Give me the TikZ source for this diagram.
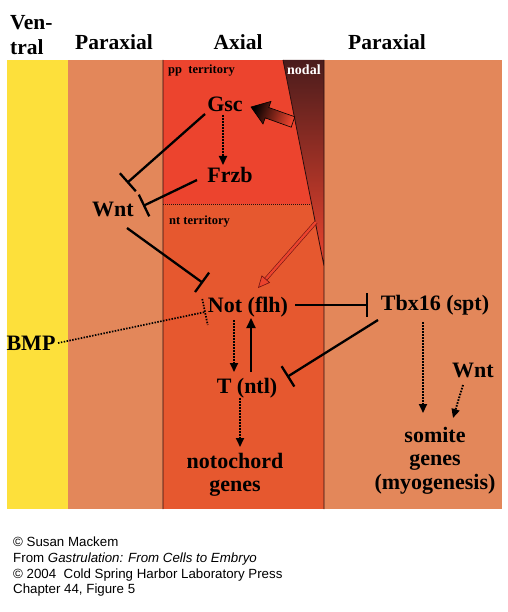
\documentclass[tikz,border=0pt]{standalone}
\usepackage{fontspec}
\setmainfont{Liberation Serif}
\newfontfamily\creditfont{Liberation Sans}
\usetikzlibrary{arrows.meta,calc}
\definecolor{bgVentral}{HTML}{FDE03B}
\definecolor{bgParaxial}{HTML}{E3875A}
\definecolor{bgPrechordal}{HTML}{EC442E}
\definecolor{bgNotochord}{HTML}{E6582F}
\definecolor{nodalDark}{HTML}{4A1C1C}
\definecolor{lineDark}{HTML}{2A0E0E}
\definecolor{arrowRim}{HTML}{6E1212}
\newcommand{\genefont}{\fontsize{22pt}{23.5pt}\selectfont\bfseries}

\begin{document}
\begin{tikzpicture}[x=1pt,y=-1pt,
          every node/.style={inner sep=0pt,text=black},
          region/.style={font=\fontsize{21.5pt}{25pt}\selectfont\bfseries},
          gene/.style={font=\genefont},
          territory/.style={font=\fontsize{12.5pt}{14pt}\selectfont\bfseries,
                            anchor=base west},
          act/.style={line width=1.9pt,dash pattern=on 1.6pt off 1.4pt,
                      -{Triangle[length=9pt,width=8pt]}},
          fwd/.style={line width=2.2pt,-{Triangle[length=10pt,width=9pt]}},
          inh/.style={line width=2.3pt,-{Bar[width=24pt]}},
          inhdot/.style={line width=1.7pt,dash pattern=on 1.5pt off 1.4pt},
          nodalLink/.style={draw=arrowRim,line width=0.6pt,double=bgPrechordal,
                            double distance=2.4pt,
                            -{Triangle[open,length=12pt,width=11pt,fill=bgPrechordal]}},
        ]
        \useasboundingbox (0,0) rectangle (507,612);
        % bands
        \fill[bgVentral] (7,60) rectangle (68,509);
        \fill[bgParaxial] (68,60) rectangle (502,509);
        \fill[bgPrechordal] (163,60) rectangle (324,204);
        \fill[bgNotochord] (163,204) rectangle (324,509);
        \shade[top color=nodalDark,bottom color=bgPrechordal] (283,60) -- (324,60) -- (324,266) -- cycle;
        \draw[lineDark,line width=0.8pt] (163,60) -- (163,509) (324,60) -- (324,509) (283,60) -- (324,266);
        \draw[lineDark,line width=0.6pt,dash pattern=on 1pt off 1pt] (163,204) -- (311,204);
        % headings
        \node[region,anchor=north west,align=left] (hVentral) at (10,15) {Ven-\\tral};
        \node[region,anchor=base] (hParaxL) at (114,50) {Paraxial};
        \node[region,anchor=base] (hAxial) at (238,50) {Axial};
        \node[region,anchor=base] (hParaxR) at (387,50) {Paraxial};
        \node[territory] (ppTerr) at (168,74) {pp\ \ territory};
        \node[territory] (ntTerr) at (169,225) {nt territory};
        \node[territory,text=white,font=\fontsize{14pt}{16pt}\selectfont\bfseries] (nodalLbl) at (287,75) {nodal};
        % genes
        \node[gene,anchor=base] (gsc) at (225,112) {Gsc};
        \node[gene,anchor=base] (frzb) at (230,183) {Frzb};
        \node[gene,anchor=base] (wntL) at (113,217) {Wnt};
        \node[gene,anchor=base] (notN) at (248,312) {Not (flh)};
        \node[gene,anchor=base] (bmp) at (31,350) {BMP};
        \node[gene,anchor=base] (tntl) at (247,393) {T (ntl)};
        \node[gene,anchor=base] (tbx) at (435,310) {Tbx16 (spt)};
        \node[gene,anchor=base] (wntR) at (473,377) {Wnt};
        \node[gene,anchor=north,align=center] (noto) at (235,453) {notochord\\genes};
        \node[gene,anchor=north,align=center] (somite) at (435,427) {somite\\genes\\(myogenesis)};
        \coordinate (nodalTail) at (316,222);
        % links
        \draw[act] ($(gsc.base)+(-2,3)$) -- ($(frzb.base)+(-7,-18)$);
        \draw[inh] ($(gsc.base)+(-20,2)$) -- ($(wntL.base)+(14,-34)$);
        \draw[inh] ($(frzb.base)+(-33,-3)$) -- ($(wntL.base)+(30,-11)$);
        \draw[inh] ($(wntL.base)+(14,11)$) -- ($(notN.base)+(-45,-29)$);
        \draw[inhdot] ($(bmp.base)+(27,-7)$) -- ($(notN.base)+(-43,0)$) coordinate (bmpEnd);
        \draw[inhdot] ($(bmpEnd)+(-2.7,-13)$) -- ($(bmpEnd)+(2.7,13)$);
        \draw[act] ($(notN.base)+(-14,8)$) -- ($(tntl.base)+(-13,-21)$);
        \draw[fwd] ($(tntl.base)+(4,-21)$) -- ($(notN.base)+(3,6)$);
        \draw[inh] ($(notN.base)+(47,-7)$) -- ($(tbx.base)+(-67,-5)$);
        \draw[inh] ($(tbx.base)+(-57,10)$) -- ($(tntl.base)+(40,-16)$);
        \draw[act] ($(tbx.base)+(-12,12)$) -- ($(somite.north)+(-12,-14)$);
        \draw[act] ($(wntR.base)+(-10,8)$) -- ($(somite.north)+(18,-9)$);
        \draw[act] ($(tntl.base)+(-7,5)$) -- ($(noto.north)+(5,-6)$);
        % nodal signal
        \begin{scope}[shift={(gsc.base)}]
          \shade[draw=black,line width=0.6pt,top color=black,bottom color=bgPrechordal,shading angle=70]
            (26,-5) -- (46,-10.6) -- (43.8,-4.5) -- (69.8,4.8) -- (66.2,15.2) -- (40.2,5.9) -- (38,12) -- cycle;
        \end{scope}
        \draw[nodalLink] (nodalTail) -- ($(notN.base)+(10,-24)$);
        % credit
        \node[anchor=north west,align=left,font=\creditfont\fontsize{13.3pt}{15.7pt}\selectfont] (credit) at (13,537)
          {\textcopyright{} Susan Mackem\\From \textit{Gastrulation: From Cells to Embryo}\\\textcopyright{} 2004\ \ Cold Spring Harbor Laboratory Press\\Chapter 44, Figure 5};
      \end{tikzpicture}
\end{document}
